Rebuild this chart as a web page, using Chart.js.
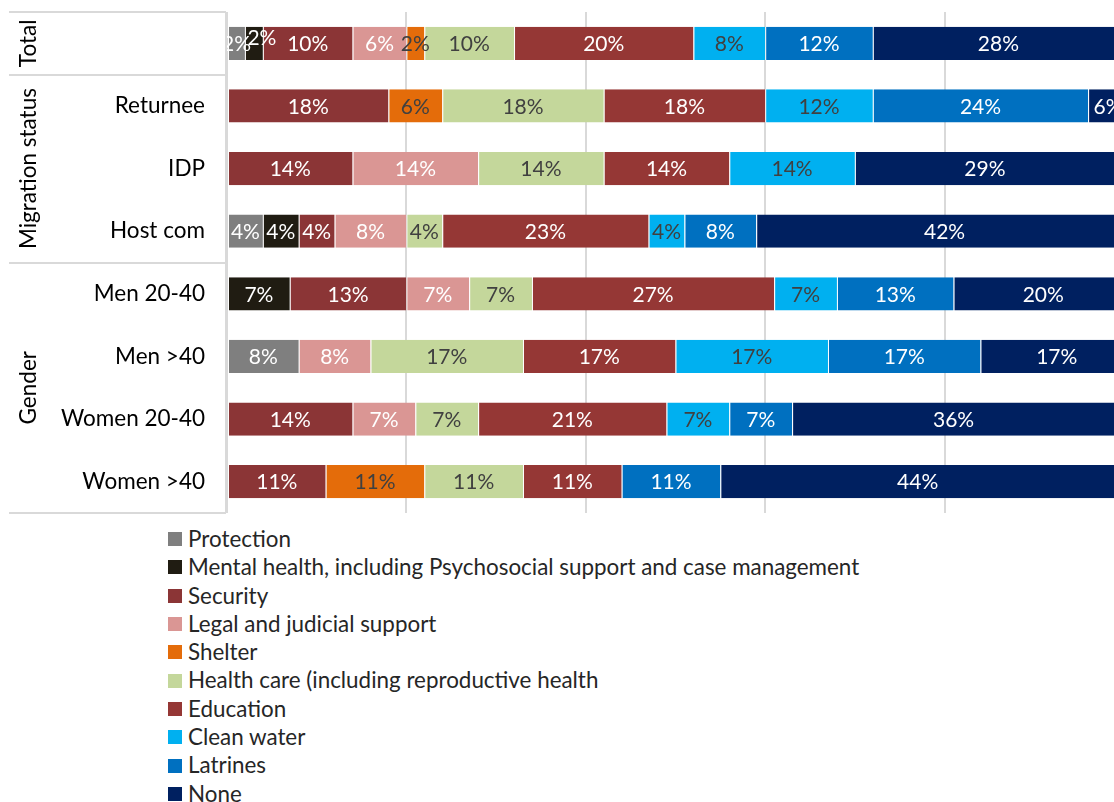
<!DOCTYPE html>
<html>
<head>
<meta charset="utf-8">
<script src="https://cdn.jsdelivr.net/npm/chart.js@4.4.1/dist/chart.umd.min.js"></script>
<style>
  html, body { margin: 0; padding: 0; background: #fff; overflow: hidden; }
  #wrap { position: relative; width: 1130px; height: 520px; }
  #legend { position: absolute; left: 168px; top: 525px; font-family: Lato, sans-serif; font-size: 22.4px; color: #262626; }
  #legend .item { height: 28.3px; line-height: 28.3px; white-space: nowrap; display: flex; align-items: center; }
  #legend .box { width: 14px; height: 14px; margin-right: 6px; flex: none; }
</style>
</head>
<body>
<div id="wrap"><canvas id="chart"></canvas></div>
<div id="legend"></div>
<script>
// Rows of the chart, top to bottom ('' = total row, label sits in the group column)
const rows = ['', 'Returnee', 'IDP', 'Host com', 'Men 20-40', 'Men >40', 'Women 20-40', 'Women >40'];

// Groups on the left side: label + index range of rows
const groupNames = ['Total', 'Migration status', 'Gender'];
const groupStart = [0, 1, 4];
const groupEnd = [0, 3, 7];

const needs = ['Protection', 'Mental health, including Psychosocial support and case management', 'Security',
  'Legal and judicial support', 'Shelter', 'Health care (including reproductive health', 'Education',
  'Clean water', 'Latrines', 'None'];

const needColors = ['#7f7f7f', '#201c12', '#8b3536', '#da9694', '#e46c0a', '#c4d79b', '#953735', '#00b0f0', '#0070c0', '#002060'];
const darkText = [false, false, false, false, true, true, false, true, false, false];

// percentages per need, one entry per row (null = not mentioned)
const protection = [2, null, null, 4, null, 8, null, null];
const mentalHealth = [2, null, null, 4, 7, null, null, null];
const security = [10, 18, 14, 4, 13, null, 14, 11];
const legal = [6, null, 14, 8, 7, 8, 7, null];
const shelter = [2, 6, null, null, null, null, null, 11];
const healthCare = [10, 18, 14, 4, 7, 17, 7, 11];
const education = [20, 18, 14, 23, 27, 17, 21, 11];
const cleanWater = [8, 12, 14, 4, 7, 17, 7, null];
const latrines = [12, 24, null, 8, 13, 17, 7, 11];
const none = [28, 6, 29, 42, 20, 17, 36, 44];

const series = [protection, mentalHealth, security, legal, shelter, healthCare, education, cleanWater, latrines, none];

const FONT = 'Lato, sans-serif';

const datasets = series.map((vals, i) => ({
  label: needs[i],
  data: vals,
  backgroundColor: needColors[i],
  borderColor: '#ffffff',
  borderWidth: { left: 1, right: 0, top: 0, bottom: 0 },
  borderSkipped: false,
  categoryPercentage: 1,
  barPercentage: 0.53
}));

// value labels centred in each segment; a very thin segment next to another
// thin one gets its label nudged up/right so the two don't sit on top of each other
const segmentLabels = {
  id: 'segmentLabels',
  afterDatasetsDraw(chart) {
    const ctx = chart.ctx;
    const maxX = chart.width - 22;
    ctx.save();
    ctx.font = '21px ' + FONT;
    ctx.textAlign = 'center';
    ctx.textBaseline = 'middle';
    rows.forEach((r, j) => {
      let prevThin = false;
      chart.data.datasets.forEach((ds, i) => {
        const v = ds.data[j];
        if (v == null) return;
        const bar = chart.getDatasetMeta(i).data[j];
        const txt = v + '%';
        const w = ctx.measureText(txt).width;
        const thin = Math.abs(bar.x - bar.base) < w * 0.7;
        const nudge = thin && prevThin;
        prevThin = thin && !nudge;
        const cx = Math.min((bar.x + bar.base) / 2, maxX) + (nudge ? 8 : 0);
        ctx.fillStyle = darkText[i] ? '#404040' : '#ffffff';
        ctx.fillText(txt, cx, bar.y + 1 - (nudge ? 6 : 0));
      });
    });
    ctx.restore();
  }
};

// group column: rotated titles and separator lines
const groupColumn = {
  id: 'groupColumn',
  afterDraw(chart) {
    const ctx = chart.ctx;
    const y = chart.scales.y;
    const area = chart.chartArea;
    const step = y.getPixelForValue(1) - y.getPixelForValue(0);
    ctx.save();
    ctx.strokeStyle = '#d9d9d9';
    ctx.lineWidth = 2;
    ctx.beginPath();
    ctx.moveTo(area.left - 1, area.top);
    ctx.lineTo(area.left - 1, area.bottom);
    const edges = [y.getPixelForValue(0) - step / 2];
    groupEnd.forEach(e => edges.push(y.getPixelForValue(e) + step / 2));
    edges.forEach(py => {
      ctx.moveTo(9, Math.round(py));
      ctx.lineTo(area.left - 1, Math.round(py));
    });
    ctx.stroke();

    ctx.fillStyle = '#000000';
    ctx.font = '22.5px ' + FONT;
    ctx.textAlign = 'center';
    ctx.textBaseline = 'middle';
    groupNames.forEach((name, g) => {
      const top = y.getPixelForValue(groupStart[g]) - step / 2;
      const bottom = y.getPixelForValue(groupEnd[g]) + step / 2;
      ctx.save();
      ctx.translate(29, (top + bottom) / 2);
      ctx.rotate(-Math.PI / 2);
      ctx.fillText(name, 0, 0);
      ctx.restore();
    });
    ctx.restore();
  }
};

const chart = new Chart(document.getElementById('chart'), {
  type: 'bar',
  data: { labels: rows, datasets },
  options: {
    indexAxis: 'y',
    responsive: true,
    maintainAspectRatio: false,
    animation: false,
    layout: { padding: { top: 12, right: 6, bottom: 7, left: 0 } },
    plugins: { legend: { display: false }, tooltip: { enabled: false } },
    scales: {
      x: {
        stacked: true,
        min: 0,
        max: 100,
        ticks: { display: false, stepSize: 20 },
        grid: { color: '#d9d9d9', lineWidth: 2, drawTicks: false },
        border: { display: false },
        afterFit(s) { s.height = 0; s.paddingLeft = 0; s.paddingRight = 0; }
      },
      y: {
        stacked: true,
        grid: { display: false, drawTicks: false },
        border: { display: false },
        ticks: { color: '#000000', font: { family: FONT, size: 22.5 }, padding: 22 },
        afterFit(s) { s.width = 227; s.paddingTop = 0; s.paddingBottom = 0; }
      }
    }
  },
  plugins: [segmentLabels, groupColumn]
});

// legend as a vertical list below the chart
const legend = document.getElementById('legend');
needs.forEach((name, i) => {
  const item = document.createElement('div');
  item.className = 'item';
  item.innerHTML = `<span class="box" style="background:${needColors[i]}"></span><span>${name}</span>`;
  legend.appendChild(item);
});
</script>
</body>
</html>
